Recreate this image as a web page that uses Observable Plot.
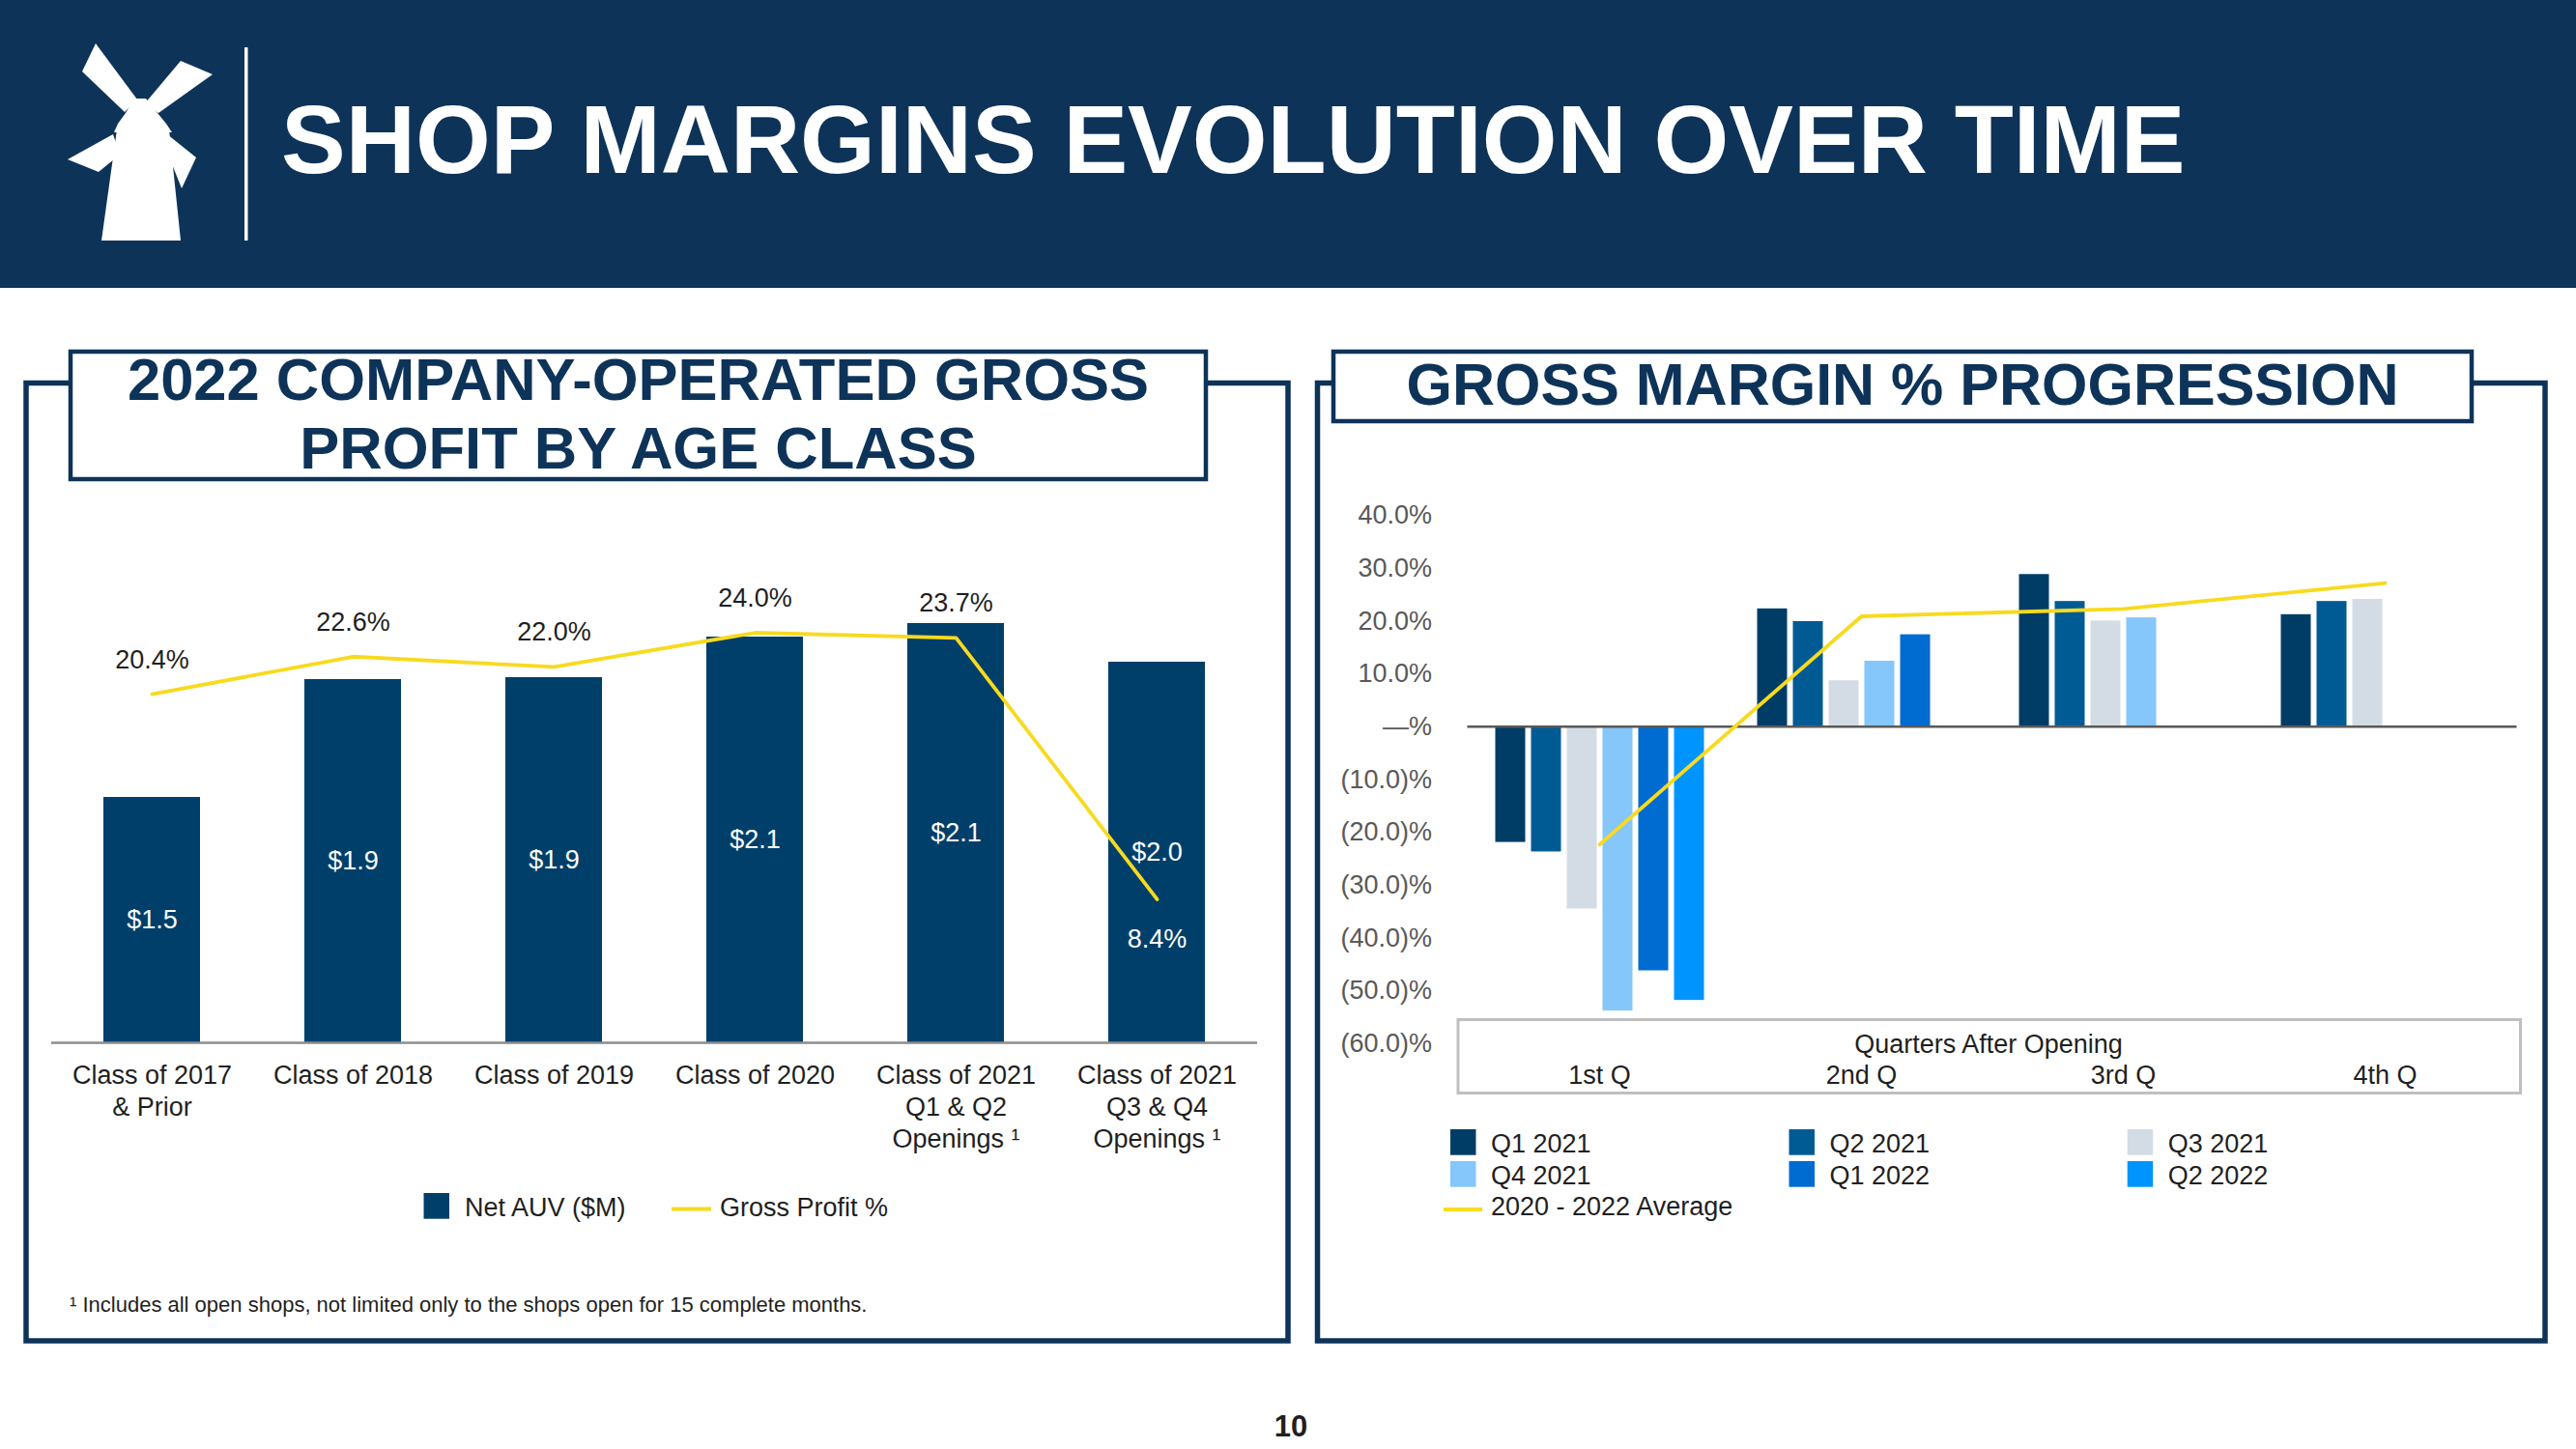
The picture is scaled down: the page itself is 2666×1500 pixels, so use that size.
<!DOCTYPE html>
<html><head><meta charset="utf-8">
<script src="https://cdn.jsdelivr.net/npm/d3@7"></script>
<script src="https://cdn.jsdelivr.net/npm/@observablehq/plot@0.6"></script>
<style>
html,body{margin:0;padding:0;background:#fff;}
body{width:2666px;height:1500px;position:relative;overflow:hidden;font-family:"Liberation Sans",Arial,sans-serif;}
.layer{position:absolute;}
.layer svg{position:absolute;left:0;top:0;}
</style></head><body>
<svg id="deco" width="2666" height="1500" style="position:absolute;left:0;top:0"></svg>
<div id="leftChart" class="layer" style="left:0;top:540px;width:1340px;height:700px"></div>
<div id="rightChart" class="layer" style="left:1360px;top:480px;width:1290px;height:700px"></div>
<script>
// ---------- data: left chart ----------
const ageClasses = ["Class of 2017\n& Prior","Class of 2018","Class of 2019","Class of 2020","Class of 2021\nQ1 & Q2\nOpenings \u00B9","Class of 2021\nQ3 & Q4\nOpenings \u00B9"];
const netAuv = [1.27, 1.88, 1.89, 2.10, 2.17, 1.97];          // bar heights as drawn ($M)
const netAuvLabels = ["$1.5","$1.9","$1.9","$2.1","$2.1","$2.0"]; // printed labels
const grossProfitPct = [20.4, 22.6, 22.0, 24.0, 23.7, 8.4];
const leftLegend = ["Net AUV ($M)", "Gross Profit %"];

// ---------- data: right chart ----------
const quarters = ["1st Q","2nd Q","3rd Q","4th Q"];
const cohorts = ["Q1 2021","Q2 2021","Q3 2021","Q4 2021","Q1 2022","Q2 2022"];
const cohortColors = ["#003d66","#005b95","#d3dce5","#85c6fb","#006bd1","#0094fe"];
const gmQ1_2021 = [-21.9, 22.3, 28.8, 21.2];
const gmQ2_2021 = [-23.7, 19.9, 23.7, 23.7];
const gmQ3_2021 = [-34.5, 8.7, 20.0, 24.1];
const gmQ4_2021 = [-53.8, 12.4, 20.6, null];
const gmQ1_2022 = [-46.2, 17.4, null, null];
const gmQ2_2022 = [-51.8, null, null, null];
const gmAverage = [-22.3, 20.9, 22.3, 27.2];
const averageLabel = "2020 - 2022 Average";
const yTicks = [-60,-50,-40,-30,-20,-10,0,10,20,30,40];

const NAVY = "#0e3359", BAR = "#013f6b", YELLOW = "#f8da1f", TXT = "#1f1f1f";
const FONT = '"Liberation Sans", Arial, sans-serif';

// ---------- decoration (header, frames, titles, legends) ----------
const deco = document.getElementById("deco");
const T = (x, y, s, size, opts = {}) => `<text x="${x}" y="${y}" font-family='${FONT}' font-size="${size}" fill="${opts.fill || TXT}" font-weight="${opts.bold ? "bold" : "normal"}" text-anchor="${opts.anchor || "start"}">${s}</text>`;
let h = "";
h += `<rect x="0" y="0" width="2666" height="298" fill="${NAVY}"/>`;
// windmill logo
const polys = [
  "99,45 85,74 129,116 142,103",
  "187,63 220,77 164,117 150,107",
  "118,137 122,128 130,117 139,102 151,102 163,117 172,128 178,137",
  "70,165 117,139 124,160 102,178",
  "173,139 203,163 188,195 178,170",
  "121,134 175,134 187,249 105,249"
];
polys.forEach(p => h += `<polygon points="${p}" fill="white"/>`);
h += `<rect x="253" y="49" width="3.5" height="200" fill="white"/>`;
h += T(291, 179, "SHOP MARGINS EVOLUTION OVER TIME", 100, {fill: "white", bold: true});
// left panel
h += `<path d="M71 396.5 H27 V1388 H1333 V396.5 H1250" fill="none" stroke="${NAVY}" stroke-width="5.5"/>`;
h += `<rect x="73" y="364" width="1175" height="132" fill="white" stroke="${NAVY}" stroke-width="4.5"/>`;
h += T(660.5, 413.5, "2022 COMPANY-OPERATED GROSS", 61.5, {fill: NAVY, bold: true, anchor: "middle"});
h += T(660.5, 484.5, "PROFIT BY AGE CLASS", 61.5, {fill: NAVY, bold: true, anchor: "middle"});
// right panel
h += `<path d="M1378 396.5 H1363.5 V1388 H2634 V396.5 H2560" fill="none" stroke="${NAVY}" stroke-width="5.5"/>`;
h += `<rect x="1380" y="364" width="1178" height="72" fill="white" stroke="${NAVY}" stroke-width="4.5"/>`;
h += T(1969, 418.5, "GROSS MARGIN % PROGRESSION", 61, {fill: NAVY, bold: true, anchor: "middle"});
// category box
h += `<rect x="1509" y="1055.5" width="1099.5" height="76" fill="none" stroke="#bfbfbf" stroke-width="3"/>`;
h += T(2058, 1090, "Quarters After Opening", 27, {anchor: "middle"});
// left legend
h += `<rect x="438.5" y="1235" width="26.5" height="26.7" fill="${BAR}"/>`;
h += T(481, 1259, leftLegend[0], 27);
h += `<line x1="695" x2="736" y1="1251.5" y2="1251.5" stroke="${YELLOW}" stroke-width="4"/>`;
h += T(745, 1259, leftLegend[1], 27);
// right legend
const colX = [1501, 1851.5, 2201.7], rowY = [1169, 1202];
cohorts.forEach((c, i) => {
  const cx = colX[i % 3], ry = rowY[Math.floor(i / 3)];
  h += `<rect x="${cx}" y="${ry}" width="26.5" height="26.7" fill="${cohortColors[i]}"/>`;
  h += T(cx + 42, ry + 24.3, c, 27);
});
h += `<line x1="1494" x2="1534" y1="1252" y2="1252" stroke="${YELLOW}" stroke-width="4"/>`;
h += T(1543, 1258, averageLabel, 27);
// footnote + page number
h += T(72, 1358, "\u00B9 Includes all open shops, not limited only to the shops open for 15 complete months.", 22);
h += T(1336, 1487, "10", 31, {bold: true, anchor: "middle"});
deco.innerHTML = h;

// ---------- left chart ----------
const styleStr = `background: transparent; overflow: visible; font-family: ${FONT}; font-size: 27px; color: ${TXT};`;
const leftCommon = {width: 1340, height: 700, marginTop: 19, marginBottom: 161, marginLeft: 53, marginRight: 39, style: styleStr};
const leftBars = Plot.plot({
  ...leftCommon,
  x: {domain: ageClasses, paddingInner: 0.52, paddingOuter: 0.26, axis: null},
  y: {domain: [0, 2.6], axis: null},
  marks: [
    Plot.barY(netAuv, {x: (d, i) => ageClasses[i], y: d => d, fill: BAR}),
    Plot.ruleY([0], {stroke: "#8c8c8c", strokeWidth: 2.5}),
    Plot.text(netAuv, {x: (d, i) => ageClasses[i], y: d => d / 2, text: (d, i) => netAuvLabels[i], fill: "white", fontSize: 27}),
    Plot.text(ageClasses, {x: d => d, frameAnchor: "bottom", lineAnchor: "top", dy: 19.6, lineHeight: 1.22, fill: TXT, fontSize: 27})
  ]
});
const leftLine = Plot.plot({
  ...leftCommon,
  x: {type: "point", domain: ageClasses, padding: 0.5, axis: null},
  y: {domain: [0, 29.4], axis: null},
  marks: [
    Plot.line(grossProfitPct, {x: (d, i) => ageClasses[i], y: d => d, stroke: YELLOW, strokeWidth: 3.8}),
    Plot.text(grossProfitPct, {filter: d => d >= 15, x: (d, i) => ageClasses[i], y: d => d, text: d => d.toFixed(1) + "%", lineAnchor: "bottom", dy: -27, fill: TXT, fontSize: 27}),
    Plot.text(grossProfitPct, {filter: d => d < 15, x: (d, i) => ageClasses[i], y: d => d, text: d => d.toFixed(1) + "%", lineAnchor: "bottom", dy: 50, fill: "white", fontSize: 27})
  ]
});
document.getElementById("leftChart").append(leftBars, leftLine);

// ---------- right chart ----------
const gmSeries = [gmQ1_2021, gmQ2_2021, gmQ3_2021, gmQ4_2021, gmQ1_2022, gmQ2_2022];
const gmRows = [];
cohorts.forEach((c, i) => quarters.forEach((q, j) => {
  const v = gmSeries[i][j];
  if (v != null) gmRows.push({cohort: c, quarter: q, value: v});
}));
const fmtPct = v => v === 0 ? "\u2014%" : v < 0 ? `(${(-v).toFixed(1)})%` : `${v.toFixed(1)}%`;
const rightCommon = {width: 1290, height: 700, marginTop: 53, marginBottom: 100, marginLeft: 158.5, marginRight: 45.5};
const rightBars = Plot.plot({
  ...rightCommon,
  style: styleStr,
  facet: {data: gmRows, x: "quarter"},
  fx: {domain: quarters, paddingInner: 0.2, paddingOuter: 0.1, axis: null, label: null},
  x: {domain: cohorts, paddingInner: 0.17, paddingOuter: 0, axis: null},
  y: {domain: [-60, 40], axis: null},
  color: {domain: cohorts, range: cohortColors},
  marks: [
    Plot.barY(gmRows, {x: "cohort", y: "value", fill: "cohort"})
  ]
});
const rightLine = Plot.plot({
  ...rightCommon,
  style: `background: transparent; overflow: visible; font-family: ${FONT}; font-size: 27px; color: #595959;`,
  x: {type: "point", domain: quarters, padding: 0.5, axis: null},
  y: {domain: [-60, 40], ticks: yTicks, tickFormat: fmtPct, tickSize: 0, tickPadding: 37, label: null},
  marks: [
    Plot.ruleY([0], {stroke: "#595959", strokeWidth: 2.5}),
    Plot.line(gmAverage, {x: (d, i) => quarters[i], y: d => d, stroke: YELLOW, strokeWidth: 3.8}),
    Plot.text(quarters, {x: d => d, frameAnchor: "bottom", lineAnchor: "bottom", dy: 41, fill: TXT, fontSize: 27})
  ]
});
document.getElementById("rightChart").append(rightBars, rightLine);
</script>
</body></html>
